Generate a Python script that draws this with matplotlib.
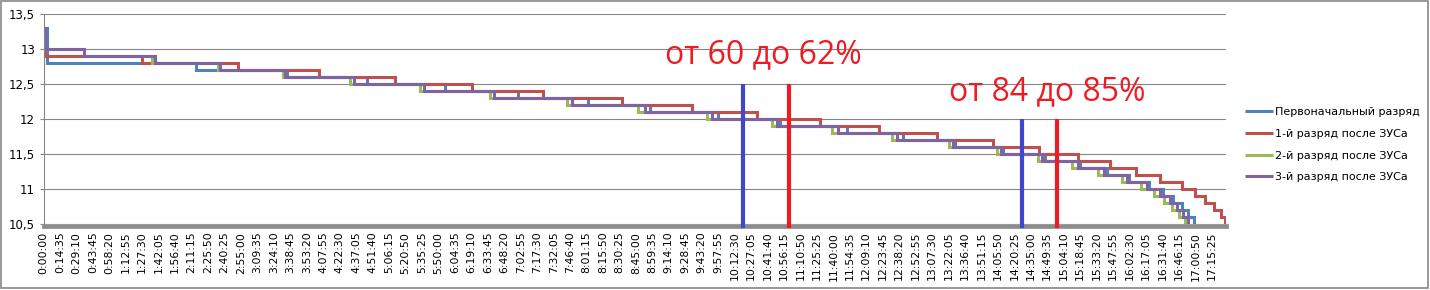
import matplotlib
matplotlib.use("Agg")
import matplotlib.pyplot as plt
from matplotlib.patches import Rectangle

# ---- data: step start times (seconds) and voltage levels ----
blue_t = [0, 160, 8085, 12930, 17185, 21335, 25215, 28940, 32240, 35855,
          39155, 42720, 45700, 48465, 51020, 53255, 55115, 56550, 57720, 58785,
          59505, 60065, 60540, 60860, 61180]
blue_v = [13.3, 12.8, 12.7, 12.6, 12.5, 12.4, 12.3, 12.2, 12.1, 12.0,
          11.9, 11.8, 11.7, 11.6, 11.5, 11.4, 11.3, 11.2, 11.1, 11.0,
          10.9, 10.8, 10.7, 10.6, 10.5]

red_t = [0, 55, 5215, 10320, 14630, 18675, 22770, 26545, 30750, 34475,
         37930, 41285, 44420, 47510, 50485, 52935, 55010, 56710, 58120, 59370,
         60515, 61235, 61765, 62245, 62615, 62830]
red_v = [13.3, 12.9, 12.8, 12.7, 12.6, 12.5, 12.4, 12.3, 12.2, 12.1,
         12.0, 11.9, 11.8, 11.7, 11.6, 11.5, 11.4, 11.3, 11.2, 11.1,
         11.0, 10.9, 10.8, 10.7, 10.6, 10.5]

green_t = [0, 55, 2130, 5745, 9255, 12715, 16280, 20005, 23725, 27825,
           31600, 35270, 38730, 41920, 45115, 48145, 50700, 52880, 54690, 56075,
           57350, 58335, 59050, 59585, 60010, 60380, 60700]
green_v = [13.3, 13.0, 12.9, 12.8, 12.7, 12.6, 12.5, 12.4, 12.3, 12.2,
           12.1, 12.0, 11.9, 11.8, 11.7, 11.6, 11.5, 11.4, 11.3, 11.2,
           11.1, 11.0, 10.9, 10.8, 10.7, 10.6, 10.5]

purple_t = [0, 55, 2180, 5905, 9365, 12820, 16490, 20215, 23940, 28090,
            31975, 35540, 38995, 42240, 45380, 48360, 50910, 53095, 55010, 56390,
            57615, 58680, 59370, 59905, 60275, 60595, 60860]
purple_v = [13.3, 13.0, 12.9, 12.8, 12.7, 12.6, 12.5, 12.4, 12.3, 12.2,
            12.1, 12.0, 11.9, 11.8, 11.7, 11.6, 11.5, 11.4, 11.3, 11.2,
            11.1, 11.0, 10.9, 10.8, 10.7, 10.6, 10.5]

series_names = ["Первоначальный разряд", "1-й разряд после ЗУСа",
                "2-й разряд после ЗУСа", "3-й разряд после ЗУСа"]

marker_t = [37185, 39635, 52030, 53890]
marker_top = [12.5, 12.5, 12.0, 12.0]
marker_bottom = 10.44

annot_texts = ["от 60 до 62%", "от 84 до 85%"]
annot_t = [33040, 48145]
annot_v = [12.80, 12.27]

x_end = 62880
tick_step = 875
y_ticks = [10.5, 11, 11.5, 12, 12.5, 13, 13.5]
y_labels = ["10,5", "11", "11,5", "12", "12,5", "13", "13,5"]

# ---- figure ----
W, H = 1430, 290
fig = plt.figure(figsize=(W / 100, H / 100), dpi=100)
ax = fig.add_axes([43.5 / W, 1 - 224 / H, (1226 - 43.5) / W, (224 - 14) / H])

colors = ["#4F81BD", "#C0504D", "#9BBB59", "#8064A2"]
data = [(blue_t, blue_v), (red_t, red_v), (green_t, green_v), (purple_t, purple_v)]
for (t, v), c, name in zip(data, colors, series_names):
    ax.plot(t, v, drawstyle="steps-post", color=c, lw=2.2, label=name,
            solid_joinstyle="miter", solid_capstyle="butt")

mcolors = ["#3F48CC", "#ED1C24", "#3F48CC", "#ED1C24"]
for t, top, c in zip(marker_t, marker_top, mcolors):
    ax.vlines(t, marker_bottom, top, color=c, lw=3.0, clip_on=False, zorder=5)

for txt, t, v in zip(annot_texts, annot_t, annot_v):
    ax.text(t, v, txt, color="#ED1C24", fontsize=23, family="Open Sans",
            ha="left", va="baseline", zorder=6)

ax.set_xlim(0, x_end)
ax.set_ylim(10.5, 13.5)
ax.set_yticks(y_ticks)
ax.set_yticklabels(y_labels)
xt = list(range(0, x_end, tick_step))
ax.set_xticks(xt)
ax.set_xticklabels([f"{s // 3600}:{(s % 3600) // 60:02d}:{s % 60:02d}" for s in xt])
ax.tick_params(axis="x", length=0, pad=4, labelsize=7.8, labelrotation=90)
ax.tick_params(axis="y", length=3, width=0.8, color="#868686", pad=3, labelsize=8.5)

ax.grid(axis="y", color="#868686", lw=0.8)
ax.set_axisbelow(True)
for s in ["top", "right"]:
    ax.spines[s].set_visible(False)
ax.spines["left"].set_color("#868686")
ax.spines["left"].set_linewidth(0.8)
ax.spines["bottom"].set_color("#8C8C8C")
ax.spines["bottom"].set_linewidth(3.4)
ax.spines["bottom"].set_position(("outward", 1.5))
ax.spines["bottom"].set_zorder(4)

leg = ax.legend(loc="center left", bbox_to_anchor=(1245 / W, 1 - 144.75 / H),
                bbox_transform=fig.transFigure, frameon=False, fontsize=8,
                handlelength=2.5, handletextpad=0.2, labelspacing=1.05,
                borderpad=0, borderaxespad=0)

fig.patches.append(Rectangle((1 / W, 1 - 287.5 / H), 1427 / W, 287 / H,
                             transform=fig.transFigure, fill=False,
                             edgecolor="#888888", lw=1.2))

fig.savefig("out.png", dpi=100)
